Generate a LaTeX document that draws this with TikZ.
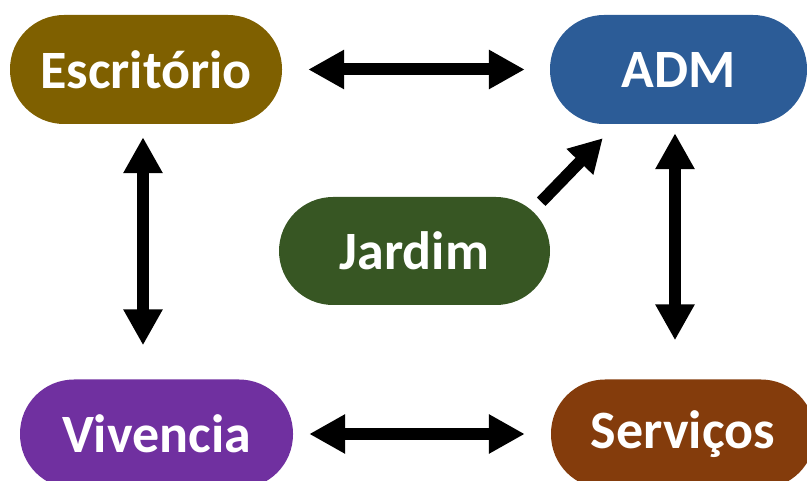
\documentclass[tikz,border=0pt]{standalone}
\usepackage{fontspec}
\setmainfont{Carlito}
\usetikzlibrary{arrows.meta}
\definecolor{cEsc}{HTML}{7F6000}
\definecolor{cAdm}{HTML}{2C5C97}
\definecolor{cJar}{HTML}{375623}
\definecolor{cViv}{HTML}{7030A0}
\definecolor{cSer}{HTML}{843C0C}
\begin{document}
\begin{tikzpicture}[x=1pt,y=-1pt,
  box/.style={rounded corners=54pt, minimum height=109pt, inner sep=0pt, text=white,
    font=\bfseries\fontsize{54}{58}\selectfont},
  dbl/.style={line width=12pt, {Triangle[length=36pt,width=37pt]}-{Triangle[length=36pt,width=37pt]}},
  sgl/.style={line width=12pt, -{Triangle[length=33pt,width=35pt]}}]
\useasboundingbox (0,0) rectangle (807,481);
\clip (0,0) rectangle (807,481);
\node[box, fill=cEsc, minimum width=272pt] (esc) at (146,69.5) {Escritório};
\node[box, fill=cAdm, minimum width=257pt] (adm) at (678.5,69.5) {ADM};
\node[box, fill=cJar, minimum width=271pt, minimum height=108pt] (jar) at (414.5,251) {Jardim};
\node[box, fill=cViv, minimum width=273pt] (viv) at (156.5,434) {Vivencia};
\node[box, fill=cSer, minimum width=264pt] (ser) at (683,434) {Serviços};
\draw[dbl, shorten <=26pt, shorten >=25pt] (esc.east) -- (adm.west);
\draw[dbl, shorten <=16pt, shorten >=26pt] (viv.east) -- (ser.west);
\draw[dbl, shorten <=13pt, shorten >=34pt] ([xshift=-3pt]esc.south) -- ([xshift=-3pt]esc.south |- viv.north);
\draw[dbl, shorten <=9pt, shorten >=39pt] ([xshift=-3.5pt]adm.south) -- ([xshift=-3.5pt]adm.south |- ser.north);
\draw[sgl] ([shift={(-9,5)}]jar.north east) -- ([shift={(53,14)}]adm.south west);
\end{tikzpicture}
\end{document}
